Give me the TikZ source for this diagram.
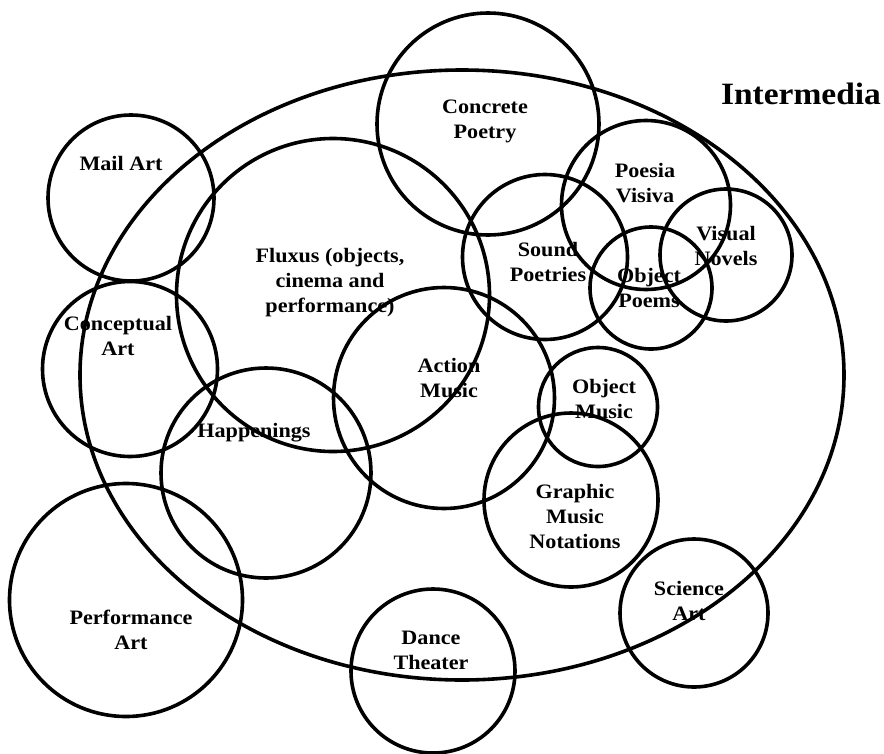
\documentclass[tikz,border=0pt]{standalone}
\usepackage{fontspec}
\setmainfont{Liberation Serif}[FakeStretch=1.08]
\usetikzlibrary{shapes.geometric}
\tikzset{
  ring/.style={circle, draw=black, line width=3.6pt, inner sep=0pt, minimum size=#1},
  lbl/.style={align=center, font=\fontsize{20.5}{25}\selectfont\bfseries, inner sep=0pt},
}
\begin{document}
\begin{tikzpicture}[x=1pt,y=-1pt]
\useasboundingbox[fill=white] (0,0) rectangle (884,753);
% big ellipse
\node[ellipse, draw=black, line width=3.6pt, inner sep=0pt, minimum width=764pt, minimum height=610pt] (inter) at (462,375) {};
% circles
\node[ring=222pt] (concrete) at (488,124) {};
\node[ring=166pt] (mail) at (131,198) {};
\node[ring=313pt] (fluxus) at (333,295) {};
\node[ring=165pt] (sound) at (545,257) {};
\node[ring=169pt] (poesia) at (646,205) {};
\node[ring=132pt] (visual) at (726,255) {};
\node[ring=122pt] (objpoems) at (651,288) {};
\node[ring=175pt] (concept) at (130,369) {};
\node[ring=221pt] (action) at (444,398) {};
\node[ring=119pt] (objmusic) at (598,407) {};
\node[ring=210pt] (happen) at (266,473) {};
\node[ring=174pt] (graphic) at (571,500) {};
\node[ring=148pt] (science) at (694,613) {};
\node[ring=233pt] (perform) at (126,600) {};
\node[ring=164pt] (dance) at (433,671) {};
% labels
\node[lbl, font=\fontsize{31}{36}\selectfont\bfseries] (interT) at (801,94) {Intermedia};
\node[lbl] (concreteT) at (485,121.5) {Concrete\\Poetry};
\node[lbl] (mailT) at (121,163) {Mail Art};
\node[lbl] (poesiaT) at (645,183.5) {Poesia\\Visiva};
\node[lbl] (visualT) at (726,246) {Visual\\Novels};
\node[lbl] (soundT) at (548,261.5) {Sound\\Poetries};
\node[lbl] (objpoemsT) at (649,287.5) {Object\\Poems};
\node[lbl] (fluxusT) at (330,283) {Fluxus (objects,\\cinema and\\performance)};
\node[lbl] (conceptT) at (118,335.5) {Conceptual\\Art};
\node[lbl] (actionT) at (449,378) {Action\\Music};
\node[lbl] (objmusicT) at (604,399) {Object\\Music};
\node[lbl] (happenT) at (254,433) {Happenings};
\node[lbl] (graphicT) at (575,516) {Graphic\\Music\\Notations};
\node[lbl] (scienceT) at (689,601) {Science\\Art};
\node[lbl] (performT) at (131,629.5) {Performance\\Art};
\node[lbl] (danceT) at (431,650) {Dance\\Theater};
\end{tikzpicture}
\end{document}
